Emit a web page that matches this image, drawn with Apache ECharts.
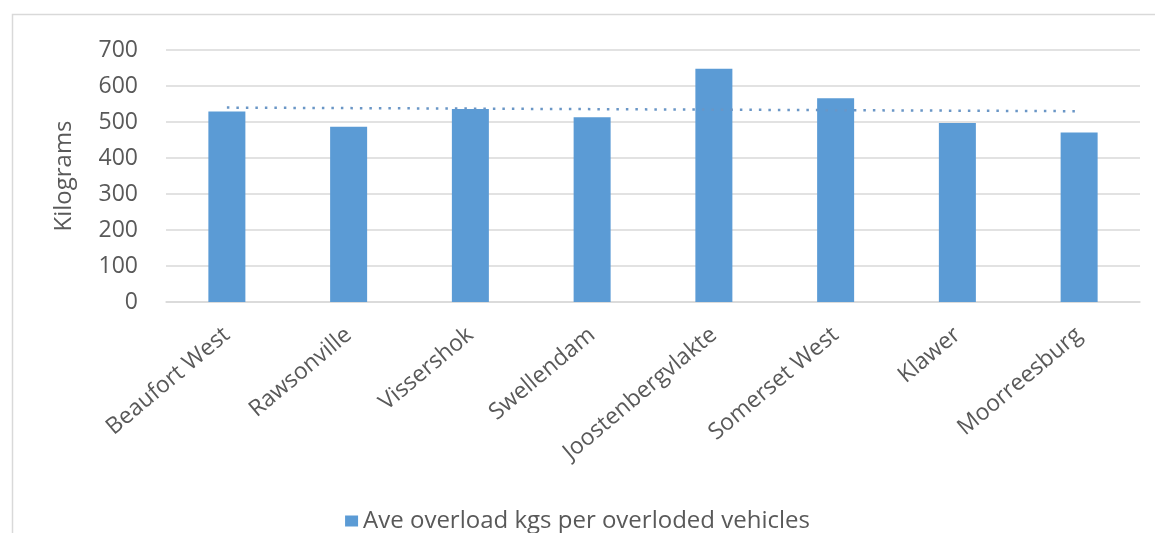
<!DOCTYPE html>
<html>
<head>
<meta charset="utf-8">
<script src="https://cdn.jsdelivr.net/npm/echarts@6/dist/echarts.min.js"></script>
<style>
  html, body { margin: 0; padding: 0; background: #ffffff; }
  #chart { width: 1155px; height: 533px; }
</style>
</head>
<body>
<div id="chart"></div>
<script>
// Weighbridge stations
const stations = ['Beaufort West', 'Rawsonville', 'Vissershok', 'Swellendam',
  'Joostenbergvlakte', 'Somerset West', 'Klawer', 'Moorreesburg'];

// Average overload (kg) per overloaded vehicle
const avgOverload = [529, 487, 536, 513, 648, 566, 497, 471];

// Linear trend: value at the first and at the last station
const trendEnds = [540, 530];

const yTicks = { min: 0, max: 700, interval: 100 };
const seriesName = 'Ave overload kgs per overloded vehicles';
const yTitle = 'Kilograms';

const textColor = '#595959';
const barColor = '#5B9BD5';
const fontFamily = '"Open Sans", Lato, sans-serif';

const chart = echarts.init(document.getElementById('chart'), null, { renderer: 'canvas' });

chart.setOption({
  animation: false,
  backgroundColor: '#ffffff',
  graphic: [{
    type: 'rect',
    silent: true,
    z: -10,
    shape: { x: 12.5, y: 14.5, width: 1300, height: 700 },
    style: { fill: 'none', stroke: '#d9d9d9', lineWidth: 1.5 }
  }],
  grid: { left: 166, right: 15, top: 50, bottom: 231, containLabel: false },
  legend: {
    data: [seriesName],
    top: 504,
    left: 'center',
    icon: 'rect',
    itemWidth: 13,
    itemHeight: 11,
    itemGap: 10,
    textStyle: { color: textColor, fontSize: 24, fontFamily: fontFamily }
  },
  xAxis: {
    type: 'category',
    data: stations,
    axisLine: { lineStyle: { color: '#d9d9d9', width: 1.5 } },
    axisTick: { show: false },
    axisLabel: {
      rotate: 40,
      margin: 30,
      interval: 0,
      color: textColor,
      fontSize: 23,
      fontFamily: fontFamily
    }
  },
  yAxis: {
    type: 'value',
    min: yTicks.min,
    max: yTicks.max,
    interval: yTicks.interval,
    name: yTitle,
    nameLocation: 'middle',
    nameGap: 90,
    nameRotate: 90,
    nameTextStyle: { color: textColor, fontSize: 24, fontFamily: fontFamily },
    axisLine: { show: false },
    axisTick: { show: false },
    splitLine: { lineStyle: { color: '#d9d9d9', width: 1.5 } },
    axisLabel: { color: textColor, fontSize: 23, fontFamily: fontFamily, margin: 28 }
  },
  series: [{
    name: seriesName,
    type: 'bar',
    data: avgOverload,
    barWidth: 37,
    itemStyle: { color: barColor },
    markLine: {
      silent: true,
      symbol: ['none', 'none'],
      label: { show: false },
      lineStyle: { color: '#6a96c6', width: 2.5, type: [2.5, 7], opacity: 1 },
      data: [[
        { coord: [stations[0], trendEnds[0]] },
        { coord: [stations[stations.length - 1], trendEnds[1]] }
      ]]
    }
  }]
});
</script>
</body>
</html>
